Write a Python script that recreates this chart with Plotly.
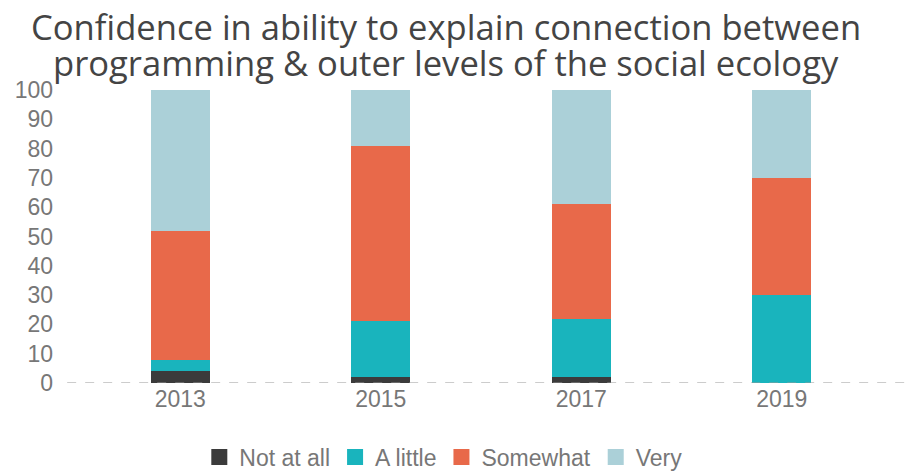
import plotly.graph_objects as go

years = ["2013", "2015", "2017", "2019"]
not_at_all = [4, 2, 2, 0]
a_little = [4, 19, 20, 30]
somewhat = [44, 60, 39, 40]
very = [48, 19, 39, 30]

title_lines = ["Confidence in ability to explain connection between",
               "programming &amp; outer levels of the social ecology"]

series = [
    ("Not at all", not_at_all, "#3b3b3b"),
    ("A little", a_little, "#19b4bd"),
    ("Somewhat", somewhat, "#e8694a"),
    ("Very", very, "#abd0d8"),
]

fig = go.Figure()
for name, vals, col in series:
    fig.add_trace(go.Bar(x=years, y=vals, name=name, marker_color=col,
                         marker_line_width=0, width=0.295, showlegend=False))
for name, vals, col in series:
    fig.add_trace(go.Scatter(x=[None], y=[None], mode="markers", name=name,
                             marker=dict(symbol="square", size=16, color=col)))

fig.update_layout(
    barmode="stack",
    width=908, height=471,
    plot_bgcolor="white", paper_bgcolor="white",
    margin=dict(l=80, r=26, t=90, b=88, autoexpand=False),
    font=dict(family="Liberation Sans, Arial", size=22, color="#777777"),
    legend=dict(orientation="h", x=0.453, xanchor="center", y=-0.253, yanchor="middle",
                font=dict(size=23, color="#777777"), traceorder="normal",
                itemsizing="trace"),
    xaxis=dict(type="category", range=[-0.5, 3.5], showgrid=False, showline=False,
               ticks="", tickfont=dict(size=23, color="#777777")),
    yaxis=dict(range=[0, 100], dtick=10, showgrid=False, zeroline=False, showline=False,
               ticks="", ticklabelstandoff=26, tickfont=dict(size=23, color="#777777")),
)
for line, ypos in zip(title_lines, [1.218, 1.095]):
    fig.add_annotation(text=line, xref="paper", yref="paper", x=0.456, y=ypos,
                       xanchor="center", yanchor="middle", showarrow=False,
                       font=dict(family="Open Sans", size=34.6, color="#444444"))
fig.add_shape(type="line", xref="paper", yref="y", x0=-0.016, x1=1.04, y0=0, y1=0,
              line=dict(color="#999999", width=1.2, dash="dash"), layer="above")

fig.write_html("out.html", post_script="document.body.style.margin='0px';",
               config={"displayModeBar": False})
